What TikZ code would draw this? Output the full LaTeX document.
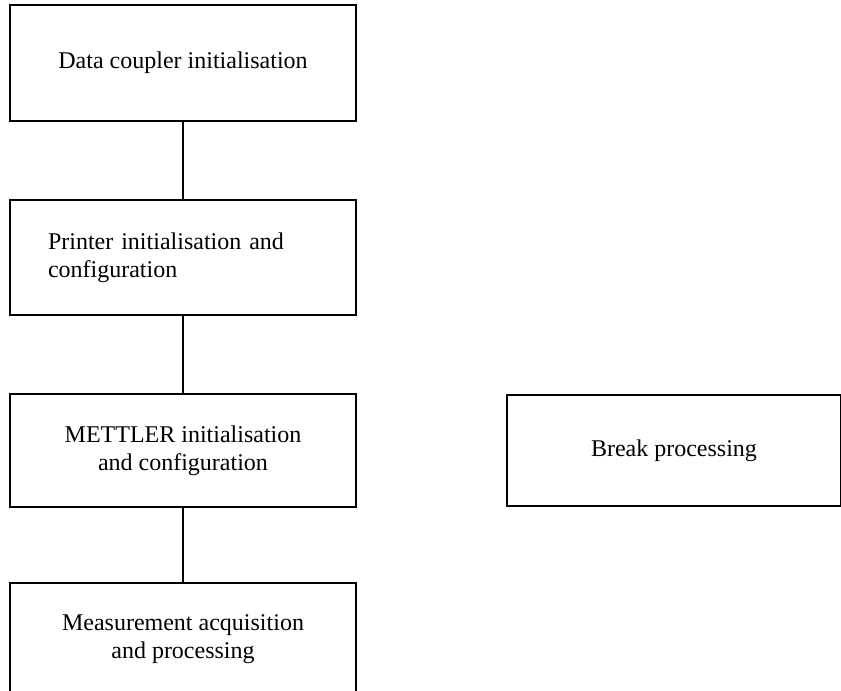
\documentclass[tikz,border=0pt]{standalone}
\usepackage{fontspec}
\setmainfont{Liberation Serif}
\usepackage{tikz}
\usetikzlibrary{positioning}

\begin{document}
\begin{tikzpicture}[
    block/.style={draw, line width=1pt, minimum width=173pt, minimum height=58pt,
                  inner sep=4pt, font=\fontsize{12}{14}\selectfont, align=center},
    link/.style={line width=0.9pt},
    every node/.style={align=center}
]
\useasboundingbox (0,0) rectangle (420.5pt,-345.5pt);

% ---- main chain ----
\node[block] (coupler) at (91.5pt,-31.5pt) {Data coupler initialisation};
\node[block, below=38.5pt of coupler, minimum height=57.5pt, align=left, text width=135pt] (printer)
      {Printer initialisation and\\configuration};
\node[block, below=38.5pt of printer, minimum height=56.5pt] (mettler)
      {METTLER initialisation\\and configuration};
\node[block, below=37pt of mettler, minimum height=56.5pt] (measure)
      {Measurement acquisition\\and processing};

% ---- break handler ----
\node[block, right=74.5pt of mettler, minimum width=167pt, minimum height=55.5pt] (break)
      {Break processing};

\draw[link] (coupler)--(printer)--(mettler)--(measure);

\end{tikzpicture}
\end{document}
